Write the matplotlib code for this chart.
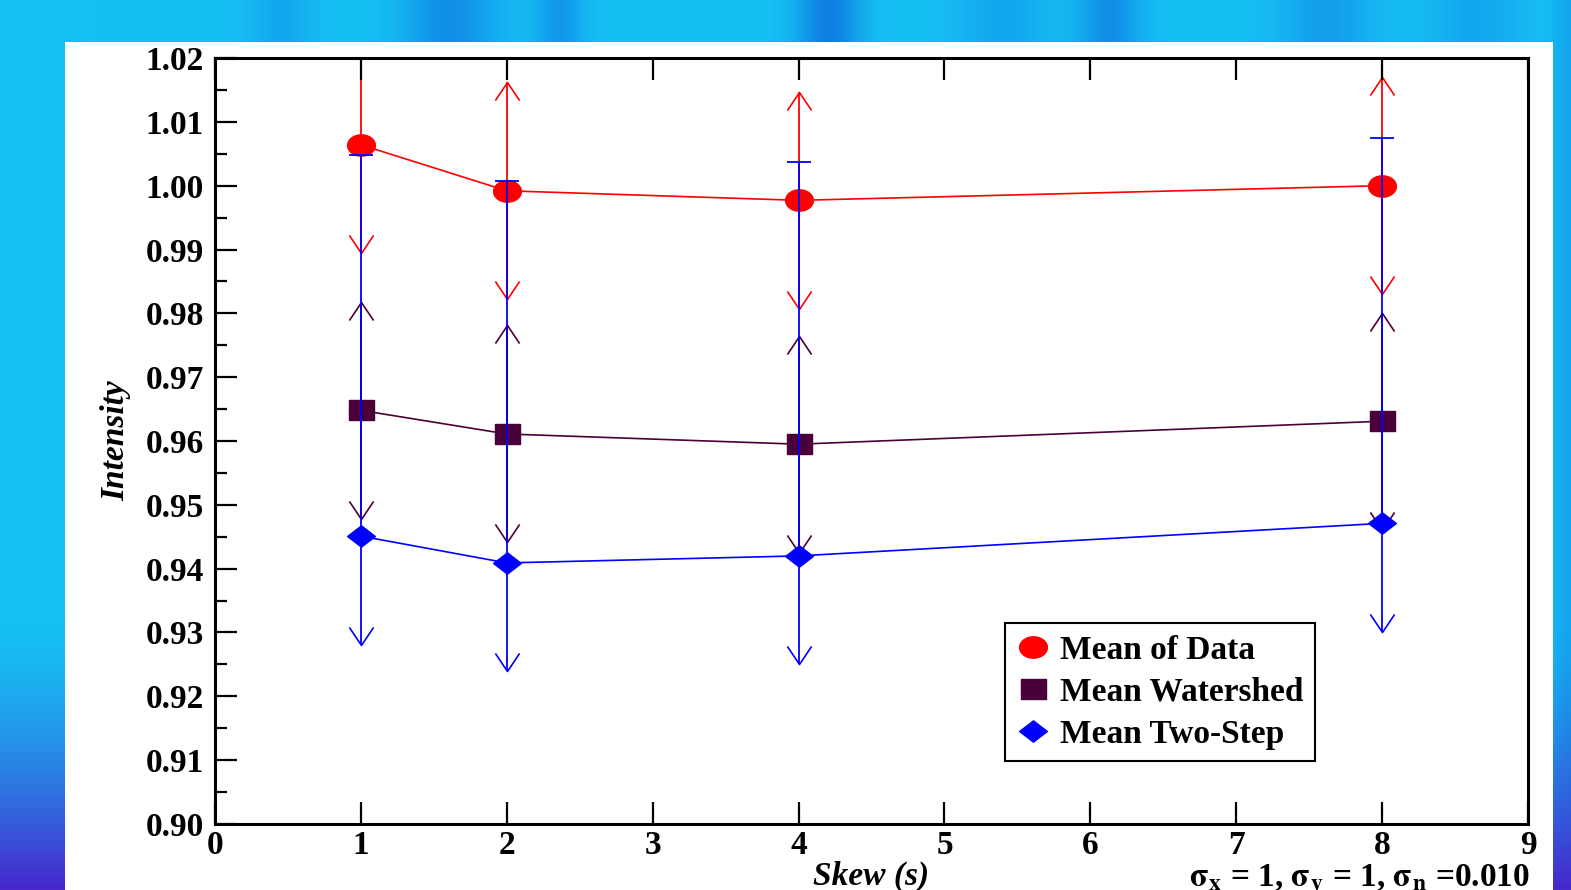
import numpy as np
import matplotlib.pyplot as plt
from matplotlib.path import Path
from matplotlib.lines import Line2D
from matplotlib.patches import Rectangle

plt.rcParams['font.family'] = ['Liberation Serif', 'DejaVu Serif']
plt.rcParams['mathtext.fontset'] = 'stix'

# data
skew = [1, 2, 4, 8]
mean_data = [1.0064, 0.9992, 0.9977, 1.0000]
mean_watershed = [0.9648, 0.9611, 0.9595, 0.9631]
mean_twostep = [0.9451, 0.9409, 0.9420, 0.9471]
err_data = [0.017, 0.017, 0.017, 0.017]
err_watershed = [0.017, 0.017, 0.017, 0.017]
err_twostep_low = [0.017, 0.017, 0.017, 0.017]
twostep_upper = [1.0048, 1.0007, 1.0037, 1.0075]

labels = ['Mean of Data', 'Mean Watershed', 'Mean Two-Step']
c_red = '#ff0000'
c_purple = '#4a0038'
c_blue = '#0000ff'

# marker shapes (picture is a bit stretched sideways)
t = np.linspace(0, 2 * np.pi, 61)
m_circle = Path(np.column_stack([1.3 * np.cos(t), np.sin(t)]), closed=True)
m_square = Path([(-1.25, -1), (1.25, -1), (1.25, 1), (-1.25, 1), (-1.25, -1)], closed=True)
m_diamond = Path([(-1.3, 0), (0, 1), (1.3, 0), (0, -1), (-1.3, 0)], closed=True)
head_up = Path([(-0.67, -1), (0, 0), (0.67, -1)])
head_down = Path([(-0.67, 1), (0, 0), (0.67, 1)])

fig = plt.figure(figsize=(15.71, 8.9), dpi=100)

# slide background
bg = fig.add_axes([0, 0, 1, 1], zorder=0)
gx = np.linspace(0, 1, 315)
gy = np.linspace(0, 1, 179)
X, Y = np.meshgrid(gx, gy)
bands = [(0.178, 0.02, 0.3), (0.286, 0.03, 0.6), (0.356, 0.015, 0.5),
         (0.528, 0.02, 0.8), (0.64, 0.03, 0.3), (0.707, 0.02, 0.6),
         (0.846, 0.03, 0.4), (0.94, 0.03, 0.3), (1.0, 0.01, 0.3)]
band = np.zeros_like(X)
for c, w, a in bands:
    band += a * np.exp(-((X - c) / w) ** 2)
mix = np.clip(band, 0, 1)[..., None]
cyan = np.array([22, 192, 244]) / 255
deep = np.array([14, 110, 222]) / 255
purple = np.array([70, 40, 205]) / 255
img = cyan * (1 - mix) + deep * mix
fade = (np.clip((Y - 0.7) / 0.3, 0, 1) ** 1.5)[..., None]
img = img * (1 - fade) + purple * fade
bg.imshow(img, aspect='auto', extent=(0, 1, 0, 1), interpolation='bilinear')
bg.add_patch(Rectangle((65 / 1571, 0), (1553 - 65) / 1571, 1 - 42 / 890,
                       transform=bg.transAxes, facecolor='white', edgecolor='none'))
bg.set_xlim(0, 1)
bg.set_ylim(0, 1)
bg.axis('off')

ax = fig.add_axes([0.13686, 0.07416, 0.83577, 0.86067], zorder=1)
ax.set_facecolor('white')
ax.set_axisbelow(False)

md = np.array(mean_data)
mw = np.array(mean_watershed)
mt = np.array(mean_twostep)

# red and purple error bars, arrows at both ends
for m, e, col in [(md, np.array(err_data), c_red), (mw, np.array(err_watershed), c_purple)]:
    ax.vlines(skew, m - e, m + e, colors=col, lw=1.3, zorder=2)
    ax.plot(skew, m + e, ls='none', marker=head_up, ms=26, mew=1.2, mfc='none', mec=col, zorder=2)
    ax.plot(skew, m - e, ls='none', marker=head_down, ms=26, mew=1.2, mfc='none', mec=col, zorder=2)

ax.plot(skew, md, color=c_red, lw=1.2, marker=m_circle, ms=20, zorder=3)
ax.plot(skew, mw, color=c_purple, lw=1.2, marker=m_square, ms=18, zorder=3)

# blue: capped above, arrow below
low = mt - np.array(err_twostep_low)
ax.vlines(skew, low, twostep_upper, colors=c_blue, lw=1.3, zorder=4)
ax.plot(skew, twostep_upper, ls='none', marker='_', ms=17, mew=1.3, mec=c_blue, zorder=4)
ax.plot(skew, low, ls='none', marker=head_down, ms=26, mew=1.2, mfc='none', mec=c_blue, zorder=4)
ax.plot(skew, mt, color=c_blue, lw=1.2, marker=m_diamond, ms=20, zorder=5)

ax.set_xlim(0, 9)
ax.set_ylim(0.90, 1.02)
ax.set_xticks(range(0, 10))
ax.set_yticks(np.arange(0.90, 1.0201, 0.01))
ax.set_yticks(np.arange(0.905, 1.02, 0.01), minor=True)
ax.set_yticklabels(['%.2f' % v for v in np.arange(0.90, 1.0201, 0.01)])

ax.tick_params(axis='both', which='major', direction='in', length=16, width=1.6,
               labelsize=24, color='black')
ax.tick_params(axis='y', which='minor', direction='in', length=8.5, width=1.6)
ax.tick_params(axis='x', top=True, bottom=True, pad=4)
ax.tick_params(axis='y', left=True, right=False, pad=8)
ax.tick_params(axis='y', which='minor', right=False)
for lab in ax.get_xticklabels() + ax.get_yticklabels():
    lab.set_fontweight('bold')
for s in ax.spines.values():
    s.set_linewidth(2.2)

ax.set_xlabel('Skew (s)', fontsize=24, fontweight='bold', fontstyle='italic', labelpad=0)
ax.set_ylabel('Intensity', fontsize=24, fontweight='bold', fontstyle='italic', labelpad=10)

handles = [
    Line2D([], [], ls='none', marker=m_circle, ms=20, color=c_red),
    Line2D([], [], ls='none', marker=m_square, ms=18, color=c_purple),
    Line2D([], [], ls='none', marker=m_diamond, ms=20, color=c_blue),
]
leg = ax.legend(handles, labels, loc='upper left', bbox_to_anchor=(0.6017, 0.2624),
                borderaxespad=0, frameon=True, fancybox=False,
                prop={'size': 24, 'weight': 'bold'},
                edgecolor='black', framealpha=1, borderpad=0.35, labelspacing=0.33,
                handlelength=1.0, handletextpad=0.3)
leg.get_frame().set_linewidth(1.5)

fig.text(1530 / 1571, 1 - 862 / 890,
         r'$\mathbf{\sigma_x}$ = 1, $\mathbf{\sigma_y}$ = 1, $\mathbf{\sigma_n}$ =0.010',
         fontsize=24, fontweight='bold', ha='right', va='top')

fig.savefig('out.png', dpi=100)
